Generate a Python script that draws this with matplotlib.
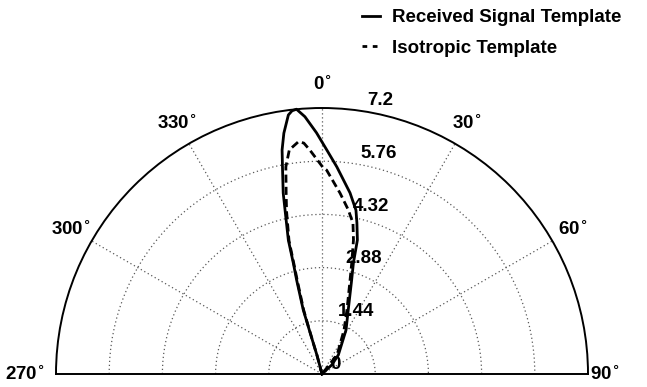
"""Half-plane polar plot of the received signal and isotropic templates."""

import matplotlib

matplotlib.use("Agg")

import matplotlib.pyplot as plt
import numpy as np
from matplotlib.lines import Line2D


# Received signal template lobe (angle in degrees clockwise from north, radius)
signal_theta = [-15.0, -15.0, -16.1, -16.3, -15.1, -14.5, -14.1, -12.7, -12.1, -10.9,
                -10.1, -9.0, -7.4, -6.5, -5.5, -3.8, -1.3, 1.2, 4.1, 8.8, 11.7, 13.0,
                14.8, 15.8, 17.5, 22.3, 28.6, 40.6, 47.1, 47.1]
signal_r = [0.0, 0.52, 1.24, 1.81, 2.64, 3.10, 3.74, 4.55, 5.01, 5.65,
            6.16, 6.60, 7.07, 7.17, 7.20, 6.98, 6.53, 6.07, 5.62, 4.96, 4.53, 4.20,
            3.75, 3.12, 2.67, 1.87, 1.36, 0.68, 0.36, 0.0]

# Isotropic template lobe
iso_theta = [-15.0, -15.0, -16.0, -16.0, -14.8, -14.3, -13.9, -12.3, -11.3, -9.9,
             -8.3, -5.8, -4.5, -3.1, 0.2, 1.3, 5.7, 9.1, 11.6, 13.2, 15.0, 16.6,
             21.3, 26.6, 38.3, 38.3]
iso_r = [0.0, 0.52, 1.24, 1.80, 2.63, 3.09, 3.72, 4.50, 4.95, 5.69,
         6.13, 6.32, 6.27, 6.07, 5.60, 5.52, 4.92, 4.50, 4.17, 3.73, 3.11, 2.66,
         1.86, 1.33, 0.66, 0.0]

r_ticks = [0, 1.44, 2.88, 4.32, 5.76, 7.2]
r_tick_labels = ["0", "1.44", "2.88", "4.32", "5.76", "7.2"]
angle_ticks = [-90, -60, -30, 0, 30, 60, 90]
angle_labels = ["270", "300", "330", "0", "30", "60", "90"]

R_MAX = r_ticks[-1]
FONT = 13.5
LINE_W = 2.0

plt.rcParams["font.family"] = ["Liberation Sans", "DejaVu Sans"]
plt.rcParams["font.weight"] = "bold"

fig = plt.figure(figsize=(6.47, 3.87), dpi=100)
# square box: the half wedge is fitted across its width and centred vertically
ax = fig.add_axes([56 / 647, (387 - 507) / 387, 532 / 647, 532 / 387],
                  projection="polar")
ax.set_theta_zero_location("N")
ax.set_theta_direction(-1)
ax.set_thetamin(-90)
ax.set_thetamax(90)
ax.set_ylim(0, R_MAX)

# dotted rings and spokes, outer ring drawn by the spine
ax.set_yticks(r_ticks[1:-1])
ax.set_yticklabels([])
ax.set_xticks(np.deg2rad(angle_ticks))
ax.set_xticklabels([])
ax.tick_params(length=0)
ax.grid(True, linestyle=(0, (1, 2.2)), color="0.35", linewidth=0.9)
for spine in ax.spines.values():
    spine.set_linewidth(1.4)
    spine.set_color("black")

ax.plot(np.deg2rad(signal_theta), signal_r, color="black", linewidth=LINE_W,
        clip_on=False)
ax.plot(np.deg2rad(iso_theta), iso_r, color="black", linewidth=LINE_W,
        dashes=(2.9, 1.5), clip_on=False)

for value, text in zip(r_ticks, r_tick_labels):
    ax.annotate(text, xy=(np.deg2rad(8), value + R_MAX / 100), xytext=(6, 2),
                textcoords="offset points", ha="left", va="baseline",
                fontsize=FONT, fontweight="bold", annotation_clip=False)

for angle, text in zip(angle_ticks, angle_labels):
    # the two horizontal labels sit a little further left
    shift = -5 if abs(angle) == 90 else 0
    ax.annotate(text + r"$^{\circ}$", xy=(np.deg2rad(angle), 1.09 * R_MAX),
                xytext=(shift, 0), textcoords="offset points",
                ha="center", va="center", fontsize=FONT, fontweight="bold",
                annotation_clip=False)

handles = [
    Line2D([], [], color="black", linewidth=LINE_W),
    Line2D([], [], color="black", linewidth=LINE_W, dashes=(1.7, 2.0)),
]
fig.legend(handles, ["Received Signal Template", "Isotropic Template"],
           loc="upper left", bbox_to_anchor=(362 / 647, 1 - 9 / 387),
           frameon=False, handlelength=0.95, handletextpad=0.65,
           labelspacing=0.72, borderpad=0, borderaxespad=0,
           prop={"weight": "bold", "size": FONT})

fig.savefig("out.png", dpi=100)
